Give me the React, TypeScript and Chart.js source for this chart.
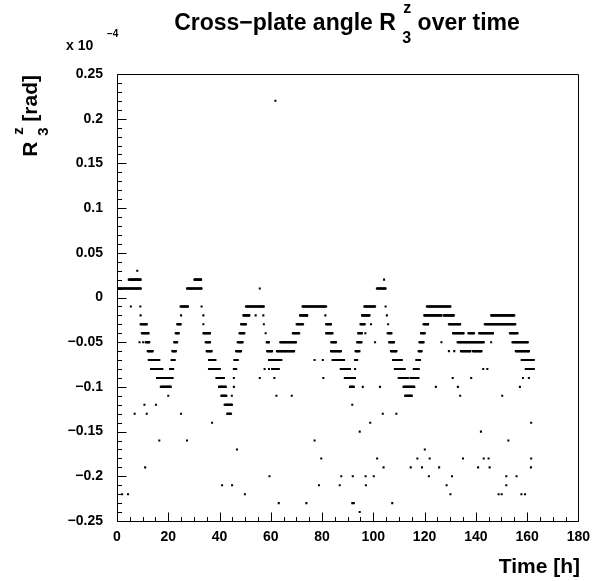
import React, { useEffect, useRef } from "react";
import { Chart, registerables } from "chart.js";

Chart.register(...registerables);

// ---- data (values in units of 1e-4 rad, time in hours) ----
const xTicks = [0, 20, 40, 60, 80, 100, 120, 140, 160, 180];
const yTicks = [-0.25, -0.2, -0.15, -0.1, -0.05, 0, 0.05, 0.1, 0.15, 0.2, 0.25];

// horizontal runs of consecutive measurements: [start time, end time, value]
const runs: [number, number, number][] = [
  [0.3, 9.3, 0.01], [4.6, 9.2, 0.02], [7.9, 7.9, 0.03], [5.4, 5.4, -0.01], [9.1, 9.1, -0.01],
  [9.2, 9.2, -0.02], [9.2, 11.6, -0.03], [9.7, 12.3, -0.04], [8.8, 8.8, -0.05], [10.2, 10.2, -0.05],
  [11.2, 12.6, -0.05], [12.0, 13.9, -0.06], [12.4, 16.5, -0.07], [13.3, 17.7, -0.08], [15.6, 21.6, -0.09],
  [17.1, 20.9, -0.1], [20.0, 20.0, -0.11],
  [20.7, 21.9, -0.08], [21.3, 22.5, -0.07], [21.6, 22.9, -0.06], [22.3, 23.5, -0.05], [22.9, 24.1, -0.04],
  [23.5, 24.8, -0.03], [25.0, 25.0, -0.02], [24.8, 27.7, -0.01],
  [27.3, 33.0, 0.01], [30.2, 32.8, 0.02],
  [33.0, 33.0, -0.01], [33.7, 33.7, -0.02], [33.7, 33.7, -0.03], [33.7, 36.3, -0.04], [34.6, 36.3, -0.05],
  [35.0, 36.9, -0.06], [35.9, 38.4, -0.07], [35.9, 40.1, -0.08], [38.8, 41.7, -0.09], [39.8, 42.4, -0.1],
  [40.7, 42.7, -0.11], [42.0, 44.8, -0.12], [43.0, 44.5, -0.13],
  [44.8, 44.8, -0.11], [45.6, 45.6, -0.1], [45.6, 45.6, -0.09], [45.6, 46.5, -0.08], [45.8, 47.1, -0.07],
  [46.5, 48.4, -0.06], [47.1, 49.0, -0.05], [47.8, 49.7, -0.04], [48.4, 50.3, -0.03], [49.3, 51.6, -0.02],
  [54.1, 54.1, -0.02], [57.1, 57.1, -0.02], [50.3, 57.3, -0.01], [55.7, 55.7, 0.01],
  [57.3, 57.3, -0.03], [58.0, 58.0, -0.04], [58.4, 59.3, -0.05], [58.6, 60.5, -0.06], [59.3, 64.1, -0.07],
  [57.6, 57.6, -0.08], [59.3, 59.3, -0.08], [60.5, 63.1, -0.08], [55.7, 55.7, -0.09], [61.4, 61.4, -0.09],
  [62.2, 62.2, -0.11], [68.2, 68.2, -0.11], [62.4, 69.1, -0.06], [63.7, 69.8, -0.05], [68.6, 71.1, -0.04],
  [70.1, 72.6, -0.03], [71.4, 74.2, -0.02], [72.4, 81.6, -0.01], [81.3, 81.3, -0.02], [77.1, 77.1, -0.07],
  [80.3, 80.3, -0.07], [80.5, 80.5, -0.09],
  [81.6, 83.5, -0.03], [81.6, 84.1, -0.04], [83.6, 85.4, -0.05], [83.5, 87.3, -0.06], [84.1, 88.6, -0.07],
  [87.3, 90.9, -0.08], [88.9, 92.8, -0.09], [90.9, 92.4, -0.1], [95.9, 95.9, -0.1], [102.6, 102.6, -0.1],
  [91.8, 91.8, -0.12], [92.9, 92.9, -0.08], [92.9, 93.7, -0.07], [93.1, 94.6, -0.06], [93.7, 95.4, -0.05],
  [94.1, 95.6, -0.04], [96.9, 96.9, -0.04], [95.0, 96.6, -0.03], [99.1, 99.1, -0.03], [95.6, 98.5, -0.02],
  [96.5, 100.7, -0.01], [100.7, 100.7, -0.05], [101.4, 104.8, 0.01], [104.2, 104.2, 0.02],
  [104.8, 104.8, -0.01], [105.3, 105.3, -0.02], [105.8, 105.8, -0.03], [105.6, 107.1, -0.04],
  [106.2, 108.1, -0.05], [106.9, 109.0, -0.06], [107.7, 111.1, -0.07], [108.4, 112.2, -0.08],
  [109.9, 113.5, -0.09], [111.8, 116.0, -0.1], [112.4, 115.0, -0.11],
  [114.5, 117.6, -0.09], [115.8, 117.7, -0.08], [116.8, 118.2, -0.07], [117.7, 118.8, -0.06],
  [118.0, 119.6, -0.05], [118.6, 120.1, -0.04], [119.6, 121.4, -0.03], [119.9, 126.6, -0.02],
  [127.5, 131.4, -0.02], [120.9, 130.1, -0.01], [126.6, 126.6, -0.05], [124.4, 124.4, -0.1],
  [129.5, 133.9, -0.03], [131.1, 135.2, -0.04], [137.1, 139.3, -0.04], [141.3, 146.7, -0.04],
  [153.3, 156.3, -0.04], [132.9, 143.1, -0.05], [146.0, 146.0, -0.05], [154.3, 160.3, -0.05],
  [129.5, 129.5, -0.06], [131.6, 131.6, -0.06], [134.2, 137.8, -0.06], [138.8, 142.2, -0.06],
  [155.6, 160.7, -0.06], [146.0, 155.0, -0.02], [143.5, 155.4, -0.03], [157.9, 162.6, -0.07],
  [142.9, 142.9, -0.08], [144.5, 144.5, -0.08], [159.5, 162.6, -0.08], [131.0, 131.0, -0.09],
  [138.2, 138.2, -0.09], [158.4, 158.4, -0.09], [160.7, 160.7, -0.09], [133.0, 133.0, -0.1],
  [157.2, 157.2, -0.1], [133.9, 133.9, -0.11], [150.3, 150.3, -0.11],
];

// isolated measurements away from the main curve
const outlierTimes = [
  10.7, 15.2,
  6.9, 11.6, 25.0, 103.7, 109.0,
  37.1, 98.8, 161.6,
  94.7, 142.0,
  16.5, 27.3, 77.1, 152.7,
  46.8, 120.1,
  79.7, 101.5, 117.2, 122.0, 135.0, 143.1, 145.0, 161.6,
  11.0, 104.0, 114.6, 119.0, 125.7, 140.9, 145.4, 161.5,
  59.5, 87.5, 92.0, 97.0, 100.2, 121.7, 130.7, 151.9, 155.9,
  41.0, 44.9, 78.8, 86.9, 97.1, 128.6, 151.9,
  2.0, 4.3, 49.9, 130.1, 148.9, 150.1, 157.8, 159.2,
  63.1, 73.9, 91.8, 92.4, 107.4,
  94.7,
  61.8,
];
const outlierValues = [
  -0.12, -0.12,
  -0.13, -0.13, -0.13, -0.13, -0.13,
  -0.14, -0.14, -0.14,
  -0.15, -0.15,
  -0.16, -0.16, -0.16, -0.16,
  -0.17, -0.17,
  -0.18, -0.18, -0.18, -0.18, -0.18, -0.18, -0.18, -0.18,
  -0.19, -0.19, -0.19, -0.19, -0.19, -0.19, -0.19, -0.19,
  -0.2, -0.2, -0.2, -0.2, -0.2, -0.2, -0.2, -0.2, -0.2,
  -0.21, -0.21, -0.21, -0.21, -0.21, -0.21, -0.21,
  -0.22, -0.22, -0.22, -0.22, -0.22, -0.22, -0.22, -0.22,
  -0.23, -0.23, -0.23, -0.23, -0.23,
  -0.24,
  0.22,
];

const SAMPLE_STEP = 0.25; // hours between measurements within a run

const FONT = "'Liberation Sans', Arial, Helvetica, sans-serif";

function buildPoints() {
  const pts: { x: number; y: number }[] = [];
  for (const [a, b, v] of runs) {
    for (let t = a; t <= b + 1e-9; t += SAMPLE_STEP) pts.push({ x: t, y: v });
    if (b - a > 0 && ((b - a) / SAMPLE_STEP) % 1 !== 0) pts.push({ x: b, y: v });
  }
  for (let i = 0; i < outlierTimes.length; i++) pts.push({ x: outlierTimes[i], y: outlierValues[i] });
  return pts;
}

function fmtY(v: number) {
  const r = Math.round(v * 100) / 100;
  if (r === 0) return "0";
  return String(r).replace("-", "\u2212");
}

const rootFrame = {
  id: "rootFrame",
  afterDraw(chart: any) {
    const ctx = chart.ctx as CanvasRenderingContext2D;
    const { left, right, top, bottom } = chart.chartArea;
    const xs = chart.scales.x;
    const ys = chart.scales.y;
    ctx.save();
    ctx.strokeStyle = "#000";
    ctx.lineWidth = 1;
    const L = Math.round(left) + 0.5;
    const R = Math.round(right) + 0.5;
    const T = Math.round(top) + 0.5;
    const B = Math.round(bottom) + 0.5;
    ctx.beginPath();
    ctx.rect(L, T, R - L, B - T);
    ctx.stroke();
    ctx.beginPath();
    for (let t = 0; t <= 180; t += 5) {
      const px = Math.round(xs.getPixelForValue(t)) + 0.5;
      const len = t % 20 === 0 ? 9 : 4.5;
      ctx.moveTo(px, B);
      ctx.lineTo(px, B - len);
    }
    for (let k = -25; k <= 25; k++) {
      const py = Math.round(ys.getPixelForValue(k / 100)) + 0.5;
      const len = k % 5 === 0 ? 9 : 4.5;
      ctx.moveTo(L, py);
      ctx.lineTo(L + len, py);
    }
    ctx.stroke();

    ctx.fillStyle = "#000";
    ctx.textBaseline = "alphabetic";
    // title
    const big = `bold 23px ${FONT}`;
    const small = `bold 16px ${FONT}`;
    ctx.font = big;
    const p1 = "Cross\u2212plate angle R ";
    const p2 = " over time";
    const w1 = ctx.measureText(p1).width;
    const w3 = ctx.measureText(p2).width;
    ctx.font = small;
    const ws = Math.max(ctx.measureText("3").width, ctx.measureText("z").width);
    const total = w1 + ws + w3;
    const cx = 347;
    const x0 = cx - total / 2;
    const by = 30;
    ctx.font = big;
    ctx.textAlign = "left";
    ctx.fillText(p1, x0, by);
    ctx.font = small;
    ctx.fillText("3", x0 + w1, by + 13);
    ctx.fillText("z", x0 + w1 + 1, by - 17);
    ctx.font = big;
    ctx.fillText(p2, x0 + w1 + ws, by);

    // exponent label
    ctx.font = `bold 14px ${FONT}`;
    ctx.fillText("x 10", 66, 50);
    ctx.font = `bold 10px ${FONT}`;
    ctx.fillText("\u22124", 107, 37);

    // x title
    const axt = `bold 21px ${FONT}`;
    const axs = `bold 15px ${FONT}`;
    ctx.font = axt;
    ctx.textAlign = "right";
    ctx.fillText("Time [h]", 580, 573);

    // y title (rotated)
    ctx.save();
    ctx.translate(37, 75);
    ctx.rotate(-Math.PI / 2);
    ctx.textAlign = "left";
    ctx.font = axt;
    const r1 = "R ";
    const r2 = " [rad]";
    const wr1 = ctx.measureText(r1).width;
    const wr2 = ctx.measureText(r2).width;
    ctx.font = axs;
    const wrs = Math.max(ctx.measureText("z").width, ctx.measureText("3").width);
    const tot = wr1 + wrs + wr2;
    const u0 = -tot;
    ctx.font = axt;
    ctx.fillText(r1, u0, 0);
    ctx.font = axs;
    ctx.fillText("3", u0 + wr1, 11);
    ctx.fillText("z", u0 + wr1 + 1, -14);
    ctx.font = axt;
    ctx.fillText(r2, u0 + wr1 + wrs, 0);
    ctx.restore();

    ctx.restore();
  },
};

export default function App() {
  const ref = useRef<HTMLCanvasElement | null>(null);
  useEffect(() => {
    if (!ref.current) return;
    const tickFont = { family: FONT, size: 14, weight: "bold" as const };
    const chart = new Chart(ref.current, {
      type: "scatter",
      data: {
        datasets: [
          {
            data: buildPoints(),
            pointStyle: "rect",
            pointRadius: 1.45,
            pointHoverRadius: 1.45,
            backgroundColor: "#000",
            borderWidth: 0,
          },
        ],
      },
      options: {
        animation: false,
        responsive: false,
        devicePixelRatio: 1,
        events: [],
        layout: { padding: { left: 0, right: 11, top: 74, bottom: 0 } },
        plugins: { legend: { display: false }, tooltip: { enabled: false }, title: { display: false } },
        scales: {
          x: {
            type: "linear",
            min: 0,
            max: 180,
            afterBuildTicks: (s: any) => {
              s.ticks = xTicks.map((v) => ({ value: v }));
            },
            afterFit: (s: any) => {
              s.height = 60;
            },
            ticks: { font: tickFont, color: "#000", padding: 8, maxRotation: 0, autoSkip: false },
            grid: { display: false, drawTicks: false },
            border: { display: false },
          },
          y: {
            type: "linear",
            min: -0.25,
            max: 0.25,
            afterBuildTicks: (s: any) => {
              s.ticks = yTicks.map((v) => ({ value: v }));
            },
            afterFit: (s: any) => {
              s.width = 117;
            },
            ticks: {
              font: tickFont,
              color: "#000",
              padding: 14,
              autoSkip: false,
              callback: (v: any) => fmtY(Number(v)),
            },
            grid: { display: false, drawTicks: false },
            border: { display: false },
          },
        },
      },
      plugins: [rootFrame],
    });
    return () => chart.destroy();
  }, []);
  return (
    <div style={{ position: "absolute", left: 0, top: 0, width: 598, height: 581, background: "#fff" }}>
      <canvas ref={ref} width={598} height={581} style={{ width: 598, height: 581 }} />
    </div>
  );
}
